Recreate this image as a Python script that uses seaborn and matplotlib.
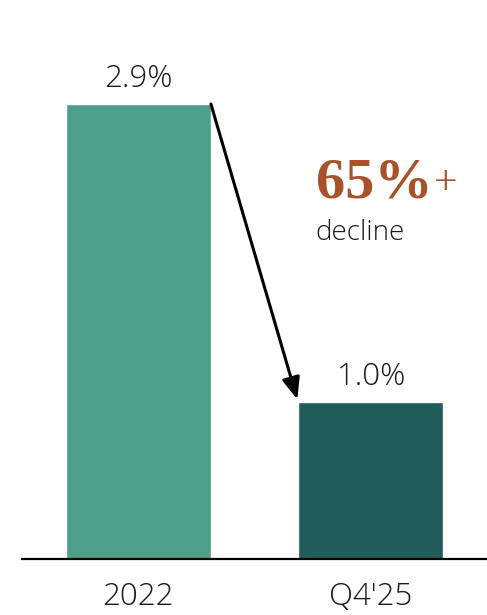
import matplotlib
matplotlib.use("Agg")
import matplotlib.pyplot as plt
import seaborn as sns
import pandas as pd

# data
periods = ["2022", "Q4'25"]
rates = [2.9, 1.0]
rate_labels = ["2.9%", "1.0%"]
bar_colors = ["#4E9F8A", "#1F5C5A"]
headline = "65%"
headline_suffix = "+"
subline = "decline"

sns.set_theme(style="white")
plt.rcParams["font.family"] = ["Open Sans", "DejaVu Sans"]

df = pd.DataFrame({"period": periods, "rate": rates})

fig = plt.figure(figsize=(4.87, 6.15), dpi=100)
ax = fig.add_axes([22 / 487, 56 / 615, 465 / 487, 559 / 615])

bar_w = 0.625
sns.barplot(data=df, x="period", y="rate", hue="period", palette=bar_colors,
            width=bar_w, legend=False, ax=ax, saturation=1)

ax.set_xlim(-0.5, 1.5)
ax.set_ylim(0, 3.563)

for i, (v, lab) in enumerate(zip(rates, rate_labels)):
    ax.annotate(lab, (i, v), xytext=(0, 12.5), textcoords="offset points",
                ha="center", va="baseline", fontsize=22.5, color="#1a1a1a",
                fontweight="light")

# arrow from top-right of first bar to top-left of second
ax.annotate("", xy=(1 - bar_w / 2, rates[1]), xytext=(bar_w / 2, rates[0]),
            arrowprops=dict(arrowstyle="-|>,head_length=1.1,head_width=0.45",
                            color="black", lw=2.2, shrinkA=0, shrinkB=2))

serif = ["Liberation Serif", "DejaVu Serif"]
t = fig.text(316 / 487, 1 - 197 / 615, headline, fontsize=42, fontweight="bold",
             color="#A8522A", family=serif, ha="left", va="baseline")
ax.annotate(headline_suffix, xy=(1, 0), xycoords=t, xytext=(1, 11),
            textcoords="offset points", fontsize=30, color="#A8522A",
            family=serif, ha="left", va="baseline")
fig.text(315 / 487, 1 - 240 / 615, subline, fontsize=20, color="#1a1a1a",
         fontweight="light", ha="left", va="baseline")

for s in ["top", "right", "left"]:
    ax.spines[s].set_visible(False)
ax.spines["bottom"].set_color("black")
ax.spines["bottom"].set_linewidth(1.6)
ax.set_yticks([])
ax.set_xlabel("")
ax.set_ylabel("")
ax.tick_params(axis="x", length=0, pad=16, labelsize=22.5, labelcolor="#1a1a1a")
for lbl in ax.get_xticklabels():
    lbl.set_fontweight("light")

fig.savefig("out.png", dpi=100)
